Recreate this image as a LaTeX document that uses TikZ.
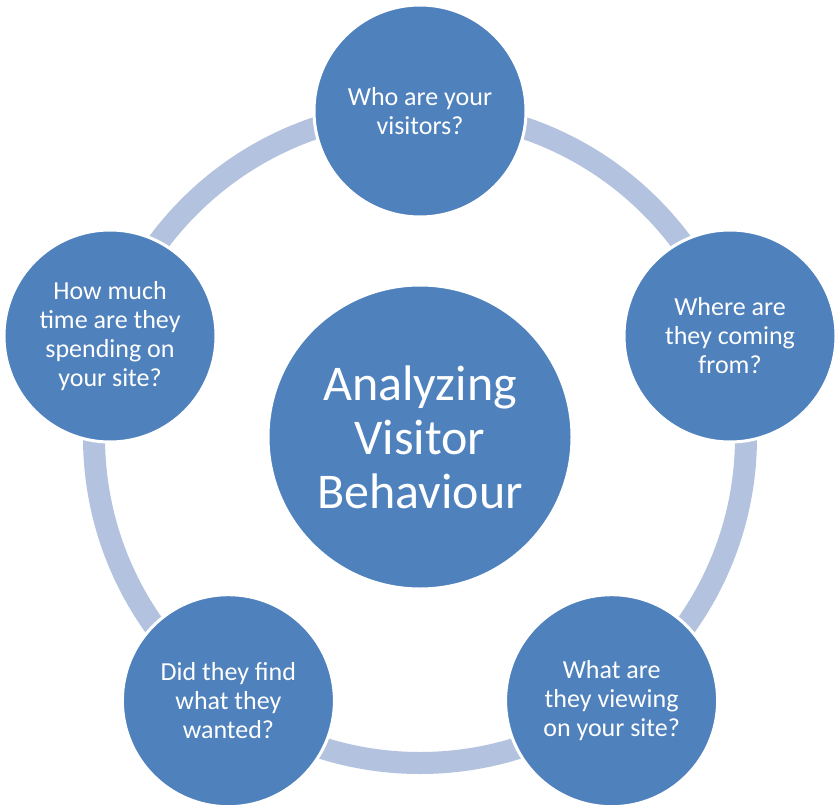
\documentclass[tikz,border=0pt]{standalone}
\usepackage{fontspec}
\setmainfont{Carlito}
\definecolor{bubble}{HTML}{4F81BD}
\definecolor{ringc}{HTML}{B3C3DF}
\begin{document}
\begin{tikzpicture}[x=1pt,y=-1pt,
  outer/.style={circle,fill=bubble,draw=white,line width=3pt,minimum size=212pt,inner sep=0pt,
    text=white,align=center,font=\fontsize{26}{29}\selectfont},
  hub/.style={circle,fill=bubble,draw=white,line width=3pt,minimum size=304pt,inner sep=0pt,
    text=white,align=center,font=\fontsize{50}{54}\selectfont}]
\fill[white] (0,0) rectangle (840,810);
\useasboundingbox (0,0) rectangle (840,810);
\coordinate (o) at (420,437);
\draw[ringc,line width=22pt] (o) circle (326);
\node[hub] (hubn) at (o) {Analyzing\\Visitor\\Behaviour};
\node[outer] (who) at (420,111) {Who are your\\visitors?};
\node[outer] (where) at (730,336) {Where are\\they coming\\from?};
\node[outer] (what) at (611.6,700.7) {What are\\they viewing\\on your site?};
\node[outer] (did) at (228.4,700.7) {Did they find\\what they\\wanted?};
\node[outer] (how) at (110,336) {How much\\time are they\\spending on\\your site?};
\end{tikzpicture}
\end{document}
